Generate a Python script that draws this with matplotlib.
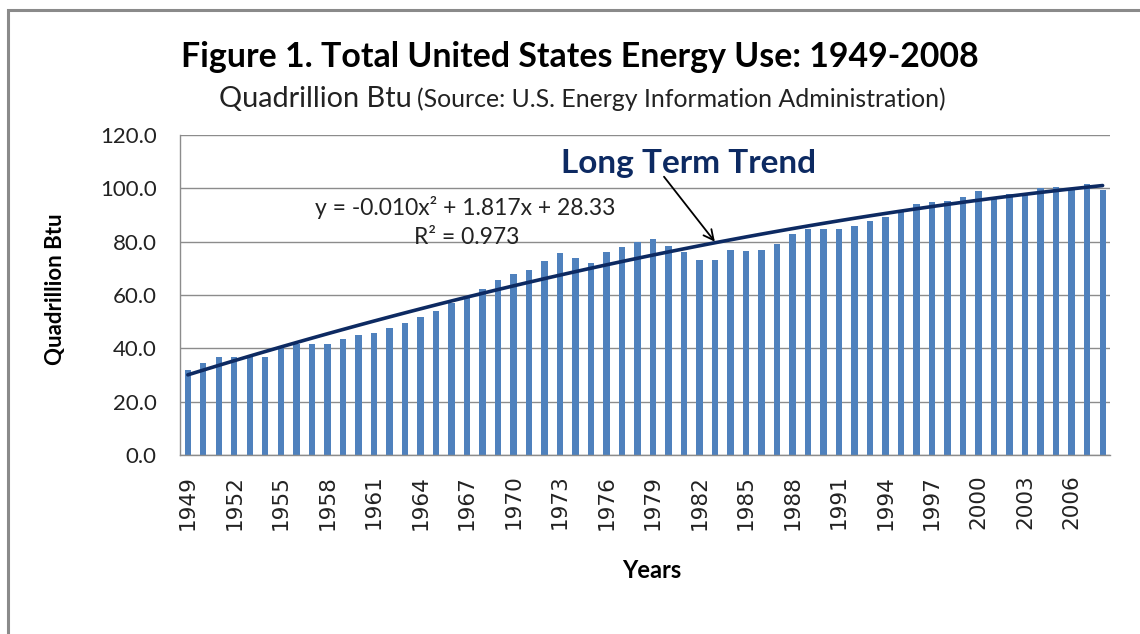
"""Total US energy use 1949-2008 with quadratic long-term trend."""

import matplotlib.pyplot as plt
import numpy as np
from matplotlib.patches import Rectangle

plt.rcParams["font.family"] = ["Lato", "DejaVu Sans"]

years = list(range(1949, 2009))
energy = [
    31.98, 34.62, 36.97, 36.75, 37.67, 36.64, 40.21, 41.75, 41.79, 41.65,
    43.47, 45.09, 45.74, 47.83, 49.65, 51.82, 54.02, 57.01, 58.91, 62.42,
    65.62, 67.84, 69.29, 72.70, 75.71, 73.99, 71.97, 76.01, 78.00, 79.99,
    80.90, 78.29, 76.34, 73.25, 73.10, 76.74, 76.47, 76.78, 79.23, 82.87,
    84.96, 84.67, 84.61, 85.96, 87.60, 89.26, 91.17, 94.17, 94.76, 95.18,
    96.82, 98.97, 96.32, 97.85, 98.13, 100.31, 100.45, 99.79, 101.53, 99.40,
]
tick_years = years[::3]
y_ticks = [0, 20, 40, 60, 80, 100, 120]

BAR = "#4F81BD"
NAVY = "#0D2A62"
TXT = "#222222"

x = np.arange(1, len(years) + 1)
coef = np.polyfit(x, energy, 2)
trend = np.polyval(coef, x)

fig = plt.figure(figsize=(11.4, 6.34), dpi=100)
ax = fig.add_axes([0.158, 0.282, 0.816, 0.505])

ax.bar(x, energy, width=0.4, color=BAR, zorder=2)
ax.plot(x, trend, color=NAVY, lw=2.6, zorder=3, solid_capstyle="round")

ax.set_xlim(0.5, len(years) + 0.5)
ax.set_ylim(0, 120)
ax.tick_params(axis="y", length=0, pad=17)
ax.tick_params(axis="x", length=0, pad=14)
ax.set_yticks(y_ticks, [f"{v:.1f}" for v in y_ticks], color=TXT, fontsize=16)
ax.set_xticks([x[years.index(yr)] for yr in tick_years],
              [str(yr) for yr in tick_years], rotation=90, color=TXT,
              fontfamily="DejaVu Sans", fontsize=15.5)
ax.yaxis.grid(True, color="#8c8c8c", lw=1.0, zorder=0)
for side in ("top", "right"):
    ax.spines[side].set_visible(False)
for side in ("left", "bottom"):
    ax.spines[side].set_color("#8c8c8c")
    ax.spines[side].set_linewidth(1.0)

# annotations
ax.text(33.3, 109.5, "Long Term Trend", fontsize=24, fontweight="bold",
        color=NAVY, ha="center", va="center")
ax.annotate("", xy=(35.1, 79.2), xytext=(31.6, 105.2),
            arrowprops=dict(arrowstyle="->", color="black", lw=1.3,
                            mutation_scale=18))
ax.text(18.9, 93.0, "y = -0.010x² + 1.817x + 28.33", fontsize=16.5,
        color=TXT, ha="center", va="center")
ax.text(19.0, 81.5, "R² = 0.973", fontsize=16.5, color=TXT,
        ha="center", va="center")

fig.text(0.509, 0.910, "Figure 1. Total United States Energy Use: 1949-2008",
         fontsize=24.4, fontweight="bold", ha="center", va="center")
fig.text(0.3615, 0.831, "Quadrillion Btu", fontsize=20.8, ha="right",
         va="baseline", color=TXT)
fig.text(0.366, 0.831, "(Source: U.S. Energy Information Administration)",
         fontsize=17.9, ha="left", va="baseline", color=TXT)
fig.text(0.049, 1 - 289 / 634, "Quadrillion Btu", fontsize=16,
         fontweight="bold", rotation=90, ha="center", va="center")
fig.text(0.572, 1 - 571 / 634, "Years", fontsize=17, fontweight="bold",
         ha="center", va="center")

# outer chart frame (only left and top edges visible)
fig.patches.append(Rectangle((8 / 1140, -0.1), 1.2, 1 - 10 / 634 + 0.1,
                             transform=fig.transFigure, fill=False,
                             edgecolor="#8a8a8a", lw=2.2))

fig.savefig("out.png", dpi=100)
